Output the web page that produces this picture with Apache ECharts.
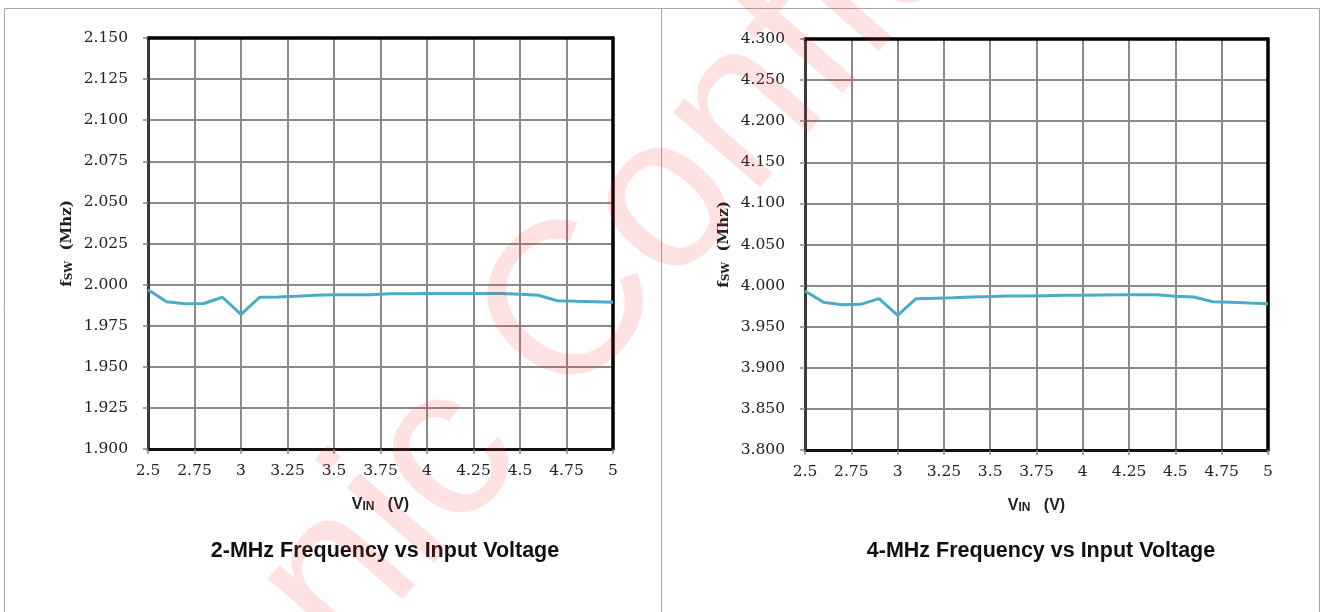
<!DOCTYPE html>
<html>
<head>
<meta charset="utf-8">
<script src="https://cdn.jsdelivr.net/npm/echarts@6/dist/echarts.min.js"></script>
<style>
html,body{margin:0;padding:0;background:#fff;}
#chart{width:1322px;height:612px;}
</style>
</head>
<body>
<div id="chart"></div>
<script>
// ---- data ----
var vin = [2.5, 2.6, 2.7, 2.8, 2.9, 3.0, 3.1, 3.2, 3.3, 3.4, 3.5, 3.6, 3.7, 3.8, 3.9, 4.0, 4.1, 4.2, 4.3, 4.4, 4.5, 4.6, 4.7, 4.8, 4.9, 5.0];
var fsw2MHz = [1.9969, 1.9896, 1.9883, 1.9885, 1.9923, 1.9819, 1.9923, 1.9925, 1.9929, 1.9935, 1.9938, 1.9938, 1.9938, 1.9944, 1.9944, 1.9946, 1.9946, 1.9946, 1.9946, 1.9946, 1.9942, 1.9935, 1.9902, 1.9898, 1.9896, 1.9892];
var fsw4MHz = [3.9935, 3.9797, 3.9768, 3.9772, 3.9841, 3.9638, 3.9841, 3.9845, 3.9853, 3.9862, 3.9866, 3.9874, 3.9874, 3.9878, 3.9882, 3.9882, 3.9886, 3.9890, 3.9890, 3.9890, 3.9870, 3.9862, 3.9805, 3.9797, 3.9788, 3.9780];
var xTicks = [2.5, 2.75, 3, 3.25, 3.5, 3.75, 4, 4.25, 4.5, 4.75, 5];
var yTicks2 = [1.900, 1.925, 1.950, 1.975, 2.000, 2.025, 2.050, 2.075, 2.100, 2.125, 2.150];
var yTicks4 = [3.800, 3.850, 3.900, 3.950, 4.000, 4.050, 4.100, 4.150, 4.200, 4.250, 4.300];
var titles = ['2-MHz Frequency vs Input Voltage', '4-MHz Frequency vs Input Voltage'];

function pairs(xs, ys) { return xs.map(function (x, i) { return [x, ys[i]]; }); }

var serif = 'DejaVu Serif';
var sans = 'Liberation Sans';
var lineColor = '#4BACC6';

function xAxisFor(gi) {
  return {
    type: 'value', gridIndex: gi, position: 'bottom',
    min: xTicks[0], max: xTicks[xTicks.length - 1], interval: xTicks[1] - xTicks[0],
    axisLine: { show: true, onZero: false, lineStyle: { color: '#111', width: 3 } },
    axisTick: { show: true, length: 5, lineStyle: { color: '#888', width: 1.5 } },
    axisLabel: { color: '#222', fontFamily: serif, fontSize: 15.5, margin: 14,
      formatter: function (v) { return String(+v.toFixed(2)); } },
    splitLine: { show: true, lineStyle: { color: '#8a8a8a', width: 2 } },
    name: '{v|V}{s|IN}{v|   (V)}', nameLocation: 'middle', nameGap: 46,
    nameTextStyle: {
      rich: {
        v: { fontFamily: sans, fontWeight: 'bold', fontSize: 16, color: '#222', verticalAlign: 'bottom', lineHeight: 18 },
        s: { fontFamily: sans, fontWeight: 'bold', fontSize: 12, color: '#222', verticalAlign: 'bottom', lineHeight: 16 }
      }
    }
  };
}
function xFrameFor(gi) {
  return {
    type: 'value', gridIndex: gi, position: 'top',
    min: xTicks[0], max: xTicks[xTicks.length - 1], interval: xTicks[1] - xTicks[0],
    axisLine: { show: true, onZero: false, lineStyle: { color: '#000', width: 3.5 } },
    axisTick: { show: false }, axisLabel: { show: false }, splitLine: { show: false }
  };
}
function yAxisFor(gi, ticks) {
  return {
    type: 'value', gridIndex: gi, position: 'left',
    min: ticks[0], max: ticks[ticks.length - 1], interval: +(ticks[1] - ticks[0]).toFixed(4),
    axisLine: { show: true, onZero: false, lineStyle: { color: '#3a3a3a', width: 3 } },
    axisTick: { show: true, length: 5, lineStyle: { color: '#888', width: 1.5 } },
    axisLabel: { color: '#222', fontFamily: serif, fontSize: 15.5, margin: 20,
      formatter: function (v) { return v.toFixed(3); } },
    splitLine: { show: true, lineStyle: { color: '#8a8a8a', width: 2 } },
    name: '{f|f}{s|SW}{f|  (Mhz)}', nameLocation: 'middle', nameGap: 73, nameRotate: 90,
    nameTextStyle: {
      rich: {
        f: { fontFamily: serif, fontWeight: 'bold', fontSize: 15, color: '#222', verticalAlign: 'bottom', lineHeight: 18 },
        s: { fontFamily: serif, fontWeight: 'bold', fontSize: 10.5, color: '#222', verticalAlign: 'bottom', lineHeight: 15 }
      }
    }
  };
}
function yFrameFor(gi, ticks) {
  return {
    type: 'value', gridIndex: gi, position: 'right',
    min: ticks[0], max: ticks[ticks.length - 1], interval: +(ticks[1] - ticks[0]).toFixed(4),
    axisLine: { show: true, onZero: false, lineStyle: { color: '#000', width: 3.5 } },
    axisTick: { show: false }, axisLabel: { show: false }, splitLine: { show: false }
  };
}

var chart = echarts.init(document.getElementById('chart'), null, { renderer: 'canvas' });
var frame = '#a6a6a6';
var wm = { fontFamily: sans, fontSize: 218, fill: 'rgba(250,40,40,0.14)', textVerticalAlign: 'middle' };
chart.setOption({
  animation: false,
  backgroundColor: '#ffffff',
  title: [
    { text: titles[0], left: 380, top: 535, textAlign: 'center',
      textStyle: { fontFamily: sans, fontWeight: 'bold', fontSize: 21.5, color: '#111' } },
    { text: titles[1], left: 1036, top: 535, textAlign: 'center',
      textStyle: { fontFamily: sans, fontWeight: 'bold', fontSize: 21.5, color: '#111' } }
  ],
  grid: [
    { left: 148, right: 709, top: 38, bottom: 163 },
    { left: 805, right: 54, top: 39, bottom: 162 }
  ],
  xAxis: [xAxisFor(0), xAxisFor(1), xFrameFor(0), xFrameFor(1)],
  yAxis: [yAxisFor(0, yTicks2), yAxisFor(1, yTicks4), yFrameFor(0, yTicks2), yFrameFor(1, yTicks4)],
  series: [
    { type: 'line', xAxisIndex: 0, yAxisIndex: 0, data: pairs(vin, fsw2MHz), showSymbol: false, symbol: 'none',
      lineStyle: { color: lineColor, width: 3 }, z: 5 },
    { type: 'line', xAxisIndex: 1, yAxisIndex: 1, data: pairs(vin, fsw4MHz), showSymbol: false, symbol: 'none',
      lineStyle: { color: lineColor, width: 3 }, z: 5 }
  ],
  graphic: [
    { type: 'line', shape: { x1: 4.5, y1: 8.5, x2: 1319.5, y2: 8.5 }, style: { stroke: frame, lineWidth: 1 }, z: -1 },
    { type: 'line', shape: { x1: 4.5, y1: 8.5, x2: 4.5, y2: 612 }, style: { stroke: frame, lineWidth: 1 }, z: -1 },
    { type: 'line', shape: { x1: 661.5, y1: 8.5, x2: 661.5, y2: 612 }, style: { stroke: frame, lineWidth: 1 }, z: -1 },
    { type: 'line', shape: { x1: 1319.5, y1: 8.5, x2: 1319.5, y2: 612 }, style: { stroke: frame, lineWidth: 1 }, z: -1 },
    { type: 'text', x: 522, y: 370, rotation: 49 * Math.PI / 180, z: 100, silent: true,
      style: Object.assign({ text: 'Confidential', textAlign: 'left' }, wm) },
    { type: 'text', x: 522, y: 370, rotation: 49 * Math.PI / 180, z: 100, silent: true,
      style: Object.assign({ text: 'Electronic ', textAlign: 'right' }, wm) }
  ]
});
</script>
</body>
</html>
